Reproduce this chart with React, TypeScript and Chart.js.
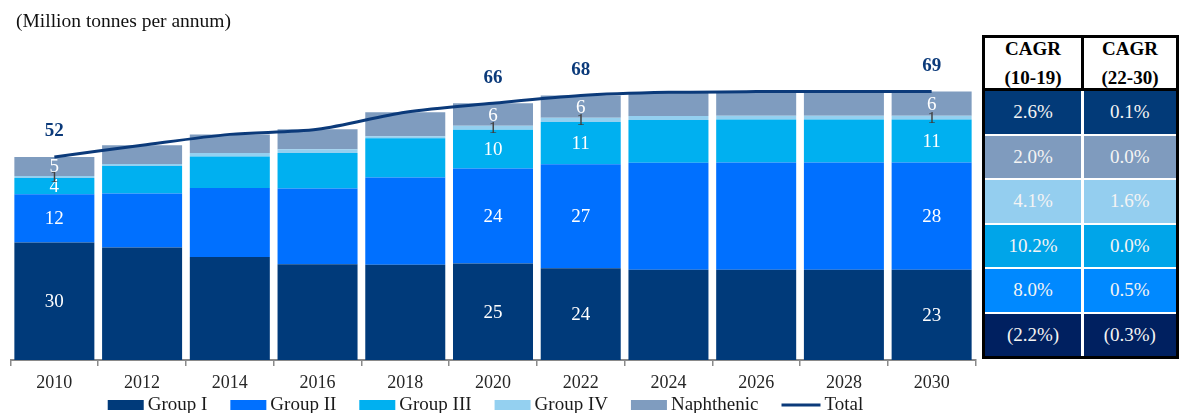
import React, { useEffect, useRef } from "react";
import { Chart, registerables } from "chart.js";

Chart.register(...registerables);

// ---------- data ----------
const years = ["2010", "2012", "2014", "2016", "2018", "2020", "2022", "2024", "2026", "2028", "2030"];
const groupI = [30.2, 28.9, 26.5, 24.6, 24.5, 24.8, 23.6, 23.2, 23.2, 23.2, 23.2];
const groupII = [12.4, 13.9, 17.7, 19.5, 22.4, 24.4, 26.7, 27.5, 27.6, 27.6, 27.6];
const groupIII = [4.2, 7.1, 8.1, 9.1, 10.1, 10.0, 10.9, 11.0, 11.0, 11.0, 11.0];
const groupIV = [0.5, 0.5, 0.9, 1.0, 0.5, 1.0, 1.1, 1.0, 1.0, 1.0, 1.0];
const naphthenic = [4.9, 4.8, 4.8, 5.1, 6.2, 5.8, 5.7, 6.1, 6.2, 6.2, 6.2];
const total = [52.2, 55.2, 58.0, 59.3, 63.7, 66.0, 68.0, 68.8, 69.0, 69.0, 69.0];
const labelledYears = ["2010", "2020", "2022", "2030"];

const chartTitle = "(Million tonnes per annum)";
const cagrHeaders = [["CAGR", "(10-19)"], ["CAGR", "(22-30)"]];
const cagr1019 = ["2.6%", "2.0%", "4.1%", "10.2%", "8.0%", "(2.2%)"];
const cagr2230 = ["0.1%", "0.0%", "1.6%", "0.0%", "0.5%", "(0.3%)"];
const cagrRowColors = ["#023A78", "#7F9BBE", "#94CEEF", "#00A5E9", "#0089FF", "#002060"];

// ---------- styles ----------
const FONT = "'Liberation Serif', 'Times New Roman', serif";
const C_G1 = "#003A7A";
const C_G2 = "#0070FF";
const C_G3 = "#00B0F0";
const C_G4 = "#94D0F0";
const C_NA = "#7F9CBF";
const C_TOT = "#0B3A7A";

const overlayPlugin = {
  id: "overlay",
  afterDatasetsDraw(chart: any) {
    const ctx = chart.ctx as CanvasRenderingContext2D;
    const labels = chart.data.labels as string[];
    ctx.save();
    ctx.textAlign = "center";
    ctx.textBaseline = "middle";
    chart.data.datasets.forEach((ds: any, di: number) => {
      const meta = chart.getDatasetMeta(di);
      labelledYears.forEach((yr) => {
        const i = labels.indexOf(yr);
        const el = meta.data[i] as any;
        const v = ds.data[i] as number;
        if (ds.type === "line") {
          ctx.fillStyle = C_TOT;
          ctx.font = `bold 19px ${FONT}`;
          ctx.fillText(String(Math.round(v)), el.x, el.y - 25.5);
        } else {
          const cy = (el.y + el.base) / 2;
          if (ds.label === "Group IV") {
            ctx.fillStyle = "#404040";
            ctx.font = `17px ${FONT}`;
            ctx.fillText(String(Math.round(v)), el.x, cy + 1);
          } else {
            ctx.fillStyle = "#ffffff";
            ctx.font = `19px ${FONT}`;
            ctx.fillText(String(Math.round(v)), el.x, cy + 1);
          }
        }
      });
    });
    ctx.restore();
  },
  afterDraw(chart: any) {
    const ctx = chart.ctx as CanvasRenderingContext2D;
    ctx.save();
    // title
    ctx.font = `19.5px ${FONT}`;
    ctx.fillStyle = "#111";
    ctx.textAlign = "left";
    ctx.textBaseline = "middle";
    ctx.fillText(chartTitle, 16, 22);
    // legend
    ctx.font = `19px ${FONT}`;
    const boxW = 36, gap = 4, itemGap = 23, lineW = 39;
    const items = chart.data.datasets.map((ds: any) => {
      const isLine = ds.type === "line";
      const w = (isLine ? lineW : boxW) + gap + ctx.measureText(ds.label).width;
      return { ds, isLine, w };
    });
    const totalW = items.reduce((s: number, it: any) => s + it.w, 0) + itemGap * (items.length - 1);
    let x = 485.5 - totalW / 2;
    const y = 405;
    items.forEach((it: any) => {
      if (it.isLine) {
        ctx.strokeStyle = it.ds.borderColor;
        ctx.lineWidth = 3;
        ctx.beginPath();
        ctx.moveTo(x, y);
        ctx.lineTo(x + lineW, y);
        ctx.stroke();
        x += lineW + gap;
      } else {
        ctx.fillStyle = it.ds.backgroundColor;
        ctx.fillRect(x, y - 5, boxW, 10);
        x += boxW + gap;
      }
      ctx.fillStyle = "#1a1a1a";
      ctx.textAlign = "left";
      ctx.fillText(it.ds.label, x, y);
      x += ctx.measureText(it.ds.label).width + itemGap;
    });
    ctx.restore();
  },
};

function CagrTable() {
  const base: React.CSSProperties = { position: "absolute", boxSizing: "border-box" };
  return (
    <div
      style={{
        ...base,
        left: 982,
        top: 35,
        width: 197,
        height: 324,
        background: "#000",
        padding: "3px 3px 3px 3px",
        fontFamily: FONT,
        fontSize: 19,
      }}
    >
      <div style={{ display: "flex", flexDirection: "column", width: "100%", height: "100%", background: "#fff" }}>
        <div style={{ display: "flex", height: 50, background: "#000", gap: 3 }}>
          {cagrHeaders.map((h, i) => (
            <div
              key={i}
              style={{
                flex: i === 0 ? "0 0 96px" : "1 1 auto",
                background: "#fff",
                display: "flex",
                flexDirection: "column",
                justifyContent: "center",
                alignItems: "center",
                fontWeight: "bold",
                lineHeight: "29px",
                color: "#000",
              }}
            >
              {h.map((line, j) => (
                <div key={j}>{line}</div>
              ))}
            </div>
          ))}
        </div>
        <div style={{ height: 3, background: "#000" }} />
        <div style={{ flex: 1, display: "flex", flexDirection: "column", gap: 2, background: "#fff" }}>
          {cagr1019.map((v, r) => (
            <div key={r} style={{ flex: 1, display: "flex", gap: 2.5 }}>
              {[v, cagr2230[r]].map((t, c) => (
                <div
                  key={c}
                  style={{
                    flex: c === 0 ? "0 0 96px" : "1 1 auto",
                    background: cagrRowColors[r],
                    color: "#f4f4f4",
                    display: "flex",
                    alignItems: "center",
                    justifyContent: "center",
                  }}
                >
                  {t}
                </div>
              ))}
            </div>
          ))}
        </div>
      </div>
    </div>
  );
}

export default function App() {
  const ref = useRef<HTMLCanvasElement>(null);
  useEffect(() => {
    if (!ref.current) return;
    const barCommon = { type: "bar" as const, stack: "bars", order: 1, borderWidth: 0, barPercentage: 0.912, categoryPercentage: 1 };
    const chart = new Chart(ref.current, {
      type: "bar",
      data: {
        labels: years,
        datasets: [
          { ...barCommon, label: "Group I", data: groupI, backgroundColor: C_G1 },
          { ...barCommon, label: "Group II", data: groupII, backgroundColor: C_G2 },
          { ...barCommon, label: "Group III", data: groupIII, backgroundColor: C_G3 },
          { ...barCommon, label: "Group IV", data: groupIV, backgroundColor: C_G4 },
          { ...barCommon, label: "Naphthenic", data: naphthenic, backgroundColor: C_NA },
          {
            type: "line" as const,
            label: "Total",
            data: total,
            stack: "line",
            order: 0,
            borderColor: C_TOT,
            backgroundColor: C_TOT,
            borderWidth: 3,
            pointRadius: 0,
            tension: 0.3,
            fill: false,
          } as any,
        ],
      },
      options: {
        responsive: false,
        animation: false,
        layout: { padding: { left: 10.5, right: 4.5, top: 48.8, bottom: 13.4 } },
        plugins: { legend: { display: false }, title: { display: false }, tooltip: { enabled: false } },
        scales: {
          x: {
            stacked: true,
            offset: true,
            grid: {
              display: true,
              offset: true,
              drawOnChartArea: false,
              drawTicks: true,
              tickLength: 6,
              color: "#8a8a8a",
              lineWidth: 1.5,
            },
            border: { display: true, color: "#8a8a8a", width: 2 },
            ticks: { color: "#262626", font: { family: FONT, size: 18 }, padding: 6, maxRotation: 0 },
          },
          y: { stacked: true, display: false, min: 0, max: 80 },
        },
      },
      plugins: [overlayPlugin],
    });
    return () => chart.destroy();
  }, []);
  return (
    <div style={{ position: "fixed", left: 0, top: 0, width: 1179, height: 413, background: "#fff", overflow: "hidden" }}>
      <canvas ref={ref} width={980} height={413} style={{ position: "absolute", left: 0, top: 0 }} />
      <CagrTable />
    </div>
  );
}
